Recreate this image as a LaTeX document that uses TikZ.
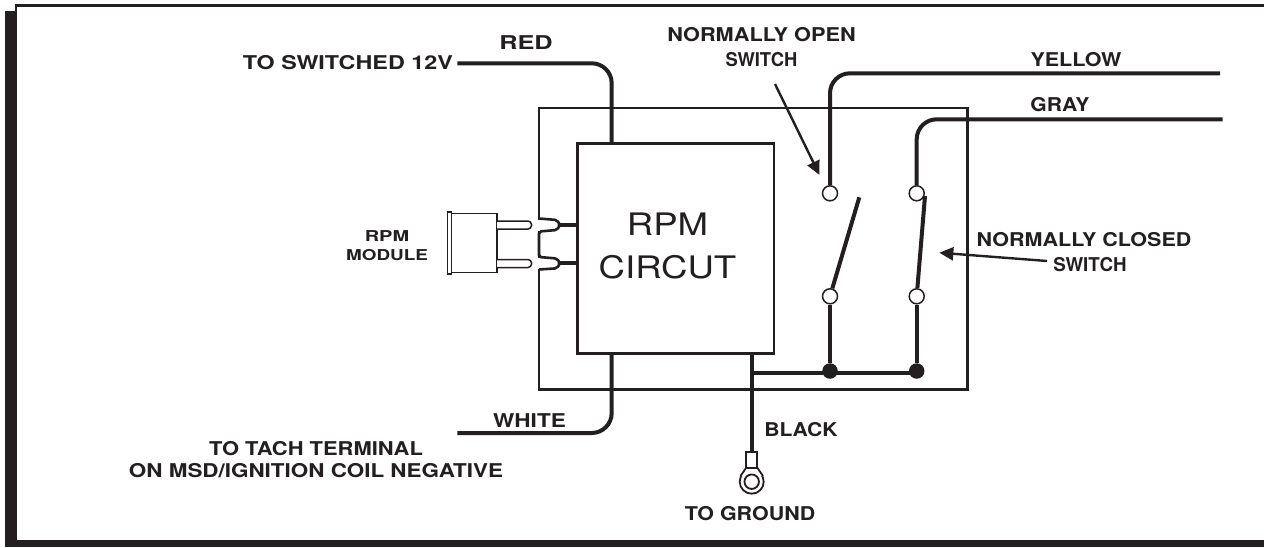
\documentclass[tikz,border=0pt]{standalone}
\usepackage{graphicx}
\usepackage{fontspec}
\setmainfont{TeX Gyre Heros}[FakeStretch=1.11]
\newfontfamily\lightf{TeX Gyre Heros}[FakeStretch=1.18]
\usetikzlibrary{arrows.meta}
\definecolor{ink}{HTML}{231F20}
\newcommand{\hsc}[2]{\scalebox{#1}[1]{#2}}
\tikzset{
 x=1pt,y=-1pt,
 thinbox/.style={draw=ink,line width=2.6pt},
 wire/.style={draw=ink,line width=4pt,rounded corners=20pt},
 plainwire/.style={draw=ink,line width=4pt},
 term/.style={circle,draw=ink,line width=1.5pt,fill=white,minimum size=15pt,inner sep=0pt},
 jdot/.style={circle,fill=ink,minimum size=15.5pt,inner sep=0pt},
 lab/.style={text=ink,font=\bfseries\fontsize{19}{25}\selectfont,inner sep=0pt,align=center},
 call/.style={draw=ink,line width=2.4pt,-{Triangle[length=14pt,width=13pt]}},
 big/.style={text=ink,font=\lightf\fontsize{31}{43}\selectfont,inner sep=0pt,align=center},
 smalllab/.style={text=ink,font=\bfseries\fontsize{15}{19}\selectfont,inner sep=0pt,align=center},
}
\begin{document}
\begin{tikzpicture}
\useasboundingbox (0,0) rectangle (1264,547);
\fill[white] (0,0) rectangle (1264,547);
% frame
\fill[ink] (15,4) rectangle (1264,7);
\fill[ink] (15,4) rectangle (17,11);
\fill[ink] (5,11) rectangle (17,547);
\fill[ink] (5,540) rectangle (1264,547);
% outer box
\node[thinbox,minimum width=428.7pt,minimum height=281.5pt,inner sep=0pt] (outer) at (753.3,248.75) {};
\node[thinbox,fill=white,minimum width=196.7pt,minimum height=210pt,inner sep=0pt] (rpm) at (675.6,248.3) {};
\node[big] (rpmtxt) at (667.5,246) {RPM\\CIRCUT};
% terminals
\node[term] (t1) at (830,193.3) {};
\node[term] (t2) at (830,296.3) {};
\node[term] (t3) at (916.7,193.3) {};
\node[term] (t4) at (916.7,296.3) {};
\node[jdot] (j1) at (830,371) {};
\node[jdot] (j2) at (916.7,371) {};
\coordinate (yel) at (1220,73.3);
\coordinate (gry) at (1222.7,119.3);
\coordinate (redend) at (457.3,63.3);
\coordinate (whiteend) at (457.3,433);
\coordinate (gndtop) at (751.7,453);
\coordinate (busstart) at (751.7,372.7);
\coordinate (bus2) at (916.7,372.7);
\coordinate (swa) at (859.3,197.3);
\coordinate (swb) at (925,196);
\coordinate (rt) at (611.7,143.3);
\coordinate (rb) at (611.7,353.3);
\coordinate (gt) at (751.7,353.3);
% wires
\draw[wire] (t1.north) -- (830,73.3) -- (yel);
\draw[wire] (t3.north) -- (916.7,119.3) -- (gry);
\draw[wire] (redend) -- (611.7,63.3) -- (rt);
\draw[wire] (whiteend) -- (611.7,433) -- (rb);
\draw[plainwire] (gt) -- (gndtop);
\draw[plainwire] (busstart) -- (bus2);
\draw[plainwire] (t2) -- (j1);
\draw[plainwire] (t4) -- (j2);
\draw[plainwire] (t2) -- (swa);
\draw[plainwire] (t4) -- (swb);
% ring terminal
\draw[ink,line width=1.8pt,fill=white] (751.7,481.7) circle (12pt);
\draw[ink,line width=1.8pt,fill=white] (740.5,476) -- (746,468) -- (757.5,468) -- (763,476);
\node[draw=ink,line width=1.8pt,fill=white,minimum width=11pt,minimum height=16.5pt,inner sep=0pt] (lug) at (751.7,460) {};
\node[circle,draw=ink,line width=1.8pt,fill=white,minimum size=14.5pt,inner sep=0pt] (hole) at (751.7,481.7) {};
% module
\node[draw=ink,line width=1.6pt,minimum width=47pt,minimum height=59pt,inner sep=0pt] (mod) at (473.2,242.8) {};
\node[draw=ink,line width=1.4pt,fill=white,minimum width=4pt,minimum height=62pt,inner sep=0pt] (flange) at (449.5,243) {};
\draw[ink,line width=1.5pt,fill=white,rounded corners=3.5pt] (497,221) -- (531.5,221) -- (531.5,229) -- (497,229);
\draw[ink,line width=1.5pt,fill=white,rounded corners=3.5pt] (497,259.5) -- (531.5,259.5) -- (531.5,267.5) -- (497,267.5);
% socket
\fill[white] (537,219.5) rectangle (541,231);
\fill[white] (537,258) rectangle (541,269);
\draw[ink,line width=2.6pt,rounded corners=2pt] (539,218.5) -- (557,220) -- (560,225) -- (557,230) -- (539,231.5) -- (539,257) -- (557,258.5) -- (560,263.3) -- (557,268.3) -- (539,269.5);
\draw[plainwire] (560,225) -- (577.3,225);
\draw[plainwire] (560,263.3) -- (577.3,263.3);
% switch callouts
\coordinate (no1) at (775,84);
\coordinate (no2) at (819.5,175);
\coordinate (nc1) at (1047,261);
\coordinate (nc2) at (939.3,252.7);
\draw[call] (no1) -- (no2);
\draw[call] (nc1) -- (nc2);
% labels
\node[lab,anchor=east] (l1) at (453,63) {\hsc{1.105}{TO SWITCHED 12V}};
\node[lab] (l2) at (526,43) {\hsc{1.2}{RED}};
\node[lab] (l3) at (761.5,47.5) {\hsc{1.03}{NORMALLY OPEN}\\\hsc{0.87}{SWITCH}};
\node[lab] (l4) at (1076,60) {\hsc{1.02}{YELLOW}};
\node[lab] (l5) at (1060,105) {GRAY};
\node[lab] (l6) at (1084,252) {\hsc{1.02}{NORMALLY CLOSED}\\\hspace*{12pt}\hsc{0.89}{SWITCH}};
\node[lab] (l7) at (529.5,421) {\hsc{1.07}{WHITE}};
\node[lab] (l8) at (801,430) {BLACK};
\node[lab] (l9) at (750,514) {\hsc{1.016}{TO GROUND}};
\node[lab,font=\bfseries\fontsize{19}{22}\selectfont] (l10) at (316,460) {\hsc{1.04}{TO TACH TERMINAL}\\\hsc{1.063}{ON MSD/IGNITION COIL NEGATIVE}};
\node[smalllab] (l11) at (387,245.5) {\hsc{1.2}{RPM}\\\hsc{1.135}{MODULE}};
\end{tikzpicture}
\end{document}
